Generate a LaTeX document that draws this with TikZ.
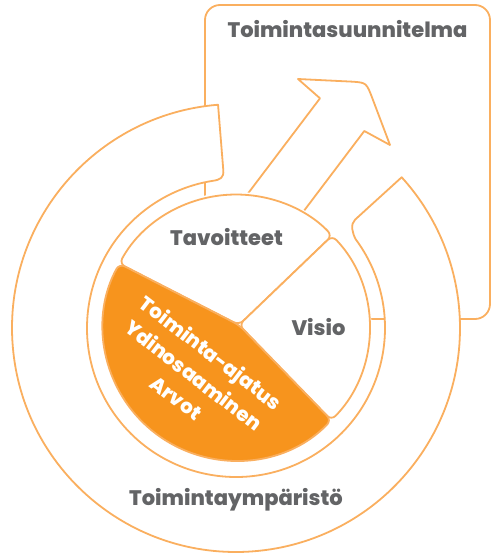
\documentclass[tikz,border=0pt]{standalone}
\usepackage{fontspec}
\setmainfont{Poppins}[BoldFont={Poppins ExtraBold}]
\usetikzlibrary{calc}
\definecolor{lineor}{HTML}{FAAF5F}
\definecolor{fillor}{HTML}{F7941D}
\definecolor{txtgray}{RGB}{99,100,102}
\begin{document}
\begin{tikzpicture}[x=1pt,y=-1pt, line width=1.8pt, line join=round,
  ol/.style={draw=lineor, fill=white},
  lbl/.style={text=txtgray, font=\bfseries\fontsize{21}{24}\selectfont, inner sep=0pt, anchor=base},
  wtxt/.style={text=white, font=\bfseries\fontsize{20}{28.5}\selectfont, inner sep=0pt, align=center, rotate=-37.5},
]
\useasboundingbox (0,0) rectangle (492,555);
\coordinate (C) at (236,328);
\coordinate (O) at (236,327.5);
\coordinate (D) at (239,325);

% plan rectangle
\draw[ol, rounded corners=15] (205,5) rectangle (490,319);

% arrow
\draw[ol] (237,208) -- (320,98.3) -- (298,79) -- (353,81.7)
  .. controls (366.5,82.7) .. (373,100) -- (390,145) -- (364.3,131) -- (294,224) -- cycle;

% environment band
\draw[ol] ($(C)+(265.4:224)$) arc[start angle=265.4, end angle=-42.3, radius=224]
  -- ($(C)+(-42.3:161)$) .. controls ($(C)+(-42.3:154)$) and ($(C)+(-39:150)$) .. ($(C)+(-36.5:149)$)
  arc[start angle=-36.5, end angle=261, radius=149]
  .. controls ($(C)+(264:149)$) and ($(C)+(265.4:151)$) .. ($(C)+(265.4:158)$) -- cycle;

% white base of the pie
\fill[white] (O) circle[radius=135.5];

% pie wedges
\begin{scope}[shift={(-0.5,-3.5)}]
\draw[ol, rounded corners=6] (D) -- ($(O)+(-151.3:133)$) arc[start angle=-151.3, end angle=-43.7, radius=133] -- cycle;
\end{scope}
\begin{scope}[shift={(3.5,0)}]
\draw[ol, rounded corners=6] (D) -- ($(O)+(-43.7:133)$) arc[start angle=-43.7, end angle=44.2, radius=133] -- cycle;
\end{scope}
\begin{scope}[shift={(-2.1,2.8)}]
\draw[draw=lineor, fill=fillor, rounded corners=6] (D) -- ($(O)+(44.2:133)$) arc[start angle=44.2, end angle=208.7, radius=133] -- cycle;
\end{scope}

% labels
\node[lbl] (plan) at (347.5,37.5) {Toimintasuunnitelma};
\node[lbl] (tav) at (226.5,245) {Tavoitteet};
\node[lbl] (vis) at (318.5,335) {Visio};
\node[lbl] (env) at (236,505) {Toimintaympäristö};
\node[wtxt] (core) at (194,375) {Toiminta-ajatus\\Ydinosaaminen\\Arvot};
\end{tikzpicture}
\end{document}
